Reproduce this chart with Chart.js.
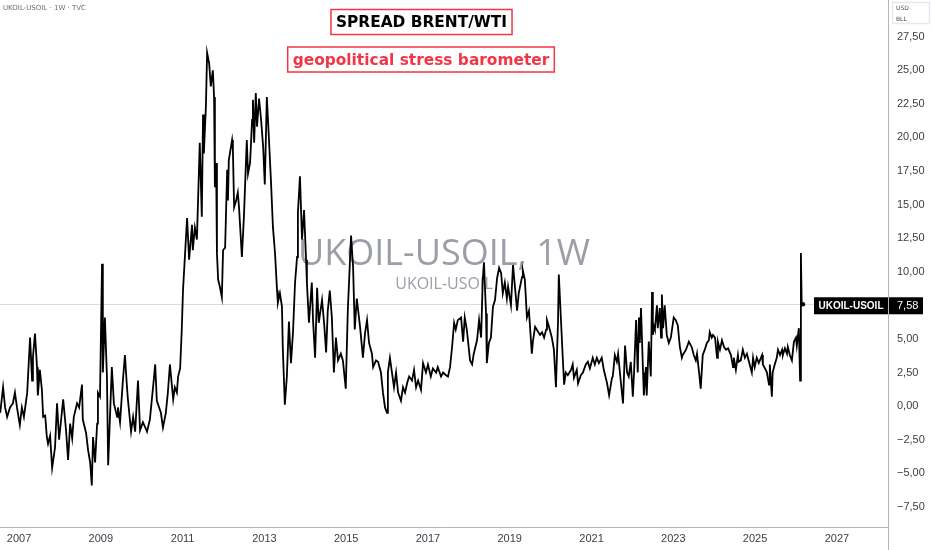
<!DOCTYPE html>
<html>
<head>
<meta charset="utf-8">
<script src="https://cdn.jsdelivr.net/npm/chart.js@4.4.1/dist/chart.umd.min.js"></script>
<style>
  html, body { margin: 0; padding: 0; background: #fff; }
  #wrap { position: relative; width: 932px; height: 550px; }
</style>
</head>
<body>
<div id="wrap"><canvas id="chart" width="932" height="550"></canvas></div>
<script>
// weekly spread UKOIL - USOIL (decimal year -> USD/bbl)
const weeks06_10 = [
  2006.54, 2006.61, 2006.66, 2006.71, 2006.78, 2006.85, 2006.90, 2006.95, 2007.02, 2007.07,
  2007.12, 2007.20, 2007.27, 2007.32, 2007.34, 2007.39, 2007.44, 2007.46, 2007.51, 2007.56,
  2007.59, 2007.64, 2007.68, 2007.71, 2007.76, 2007.81, 2007.88, 2007.93, 2007.98, 2008.03,
  2008.08, 2008.15, 2008.20, 2008.25, 2008.30, 2008.34, 2008.42, 2008.47, 2008.54, 2008.56,
  2008.64, 2008.69, 2008.74, 2008.78, 2008.81, 2008.86, 2008.91, 2008.93, 2008.98, 2009.03,
  2009.05, 2009.10, 2009.15, 2009.18, 2009.27, 2009.32, 2009.40, 2009.42, 2009.47, 2009.54,
  2009.59, 2009.64, 2009.66, 2009.74, 2009.79, 2009.84, 2009.91, 2009.96, 2010.03, 2010.13,
  2010.20, 2010.30, 2010.33, 2010.37, 2010.47, 2010.52, 2010.59, 2010.64, 2010.69, 2010.77,
  2010.81, 2010.86, 2010.89, 2010.94, 2010.98, 2011.01,
];
const spread06_10 = [
  -0.5, 1.4, -0.1, -0.8, -0.1, 0.2, 1.0, -0.1, -1.4, -0.1,
  -0.8, 1.0, 5.1, 1.9, 3.6, 5.4, 2.9, 0.8, 2.7, 1.2,
  -0.8, -0.7, -2.3, -2.8, -2.2, -4.6, -3.1, 0.2, -2.5, -1.0,
  0.5, -1.8, -4.0, -1.3, -2.4, -0.8, 0.2, -0.1, 1.6, -1.0,
  -2.0, -3.3, -4.2, -5.9, -2.3, -4.2, -1.3, 1.0, 0.7, 10.6,
  2.5, 6.6, 2.2, -4.4, 2.9, 0.2, -0.8, -0.1, -1.2, 1.9,
  3.8, 1.4, 0.6, -1.9, -0.8, -1.9, 1.9, -1.8, -1.2, -1.9,
  -1.0, 2.1, 3.1, 0.4, -0.5, -1.6, -0.5, 1.0, 3.1, 0.5,
  1.4, 1.0, 2.2, 2.8, 5.7, 8.6,
];

const weeks11_14 = [
  2011.08, 2011.11, 2011.16, 2011.23, 2011.25, 2011.30, 2011.35, 2011.42, 2011.47, 2011.50,
  2011.52, 2011.57, 2011.60, 2011.65, 2011.69, 2011.74, 2011.77, 2011.79, 2011.82, 2011.84,
  2011.87, 2011.91, 2011.96, 2011.99, 2012.04, 2012.09, 2012.11, 2012.13, 2012.21, 2012.23,
  2012.26, 2012.31, 2012.35, 2012.38, 2012.45, 2012.50, 2012.57, 2012.60, 2012.65, 2012.70,
  2012.72, 2012.75, 2012.79, 2012.82, 2012.87, 2012.92, 2012.97, 2013.01, 2013.06, 2013.11,
  2013.16, 2013.21, 2013.26, 2013.31, 2013.33, 2013.38, 2013.43, 2013.45, 2013.50, 2013.55,
  2013.60, 2013.65, 2013.70, 2013.75, 2013.80, 2013.82, 2013.87, 2013.92, 2013.97, 2014.02,
  2014.04, 2014.09,
];
const spread11_14 = [
  12.4, 14.0, 10.9, 13.5, 11.6, 13.3, 12.4, 19.6, 14.1, 21.7,
  18.8, 22.3, 26.3, 25.5, 23.8, 25.0, 23.0, 16.3, 18.1, 11.4,
  9.4, 8.9, 8.1, 11.6, 11.8, 17.6, 15.3, 18.3, 19.8, 19.1,
  14.8, 15.3, 15.9, 14.8, 11.1, 14.1, 19.8, 17.3, 18.1, 21.3,
  22.8, 19.6, 23.3, 20.8, 22.9, 21.3, 19.3, 16.5, 23.0, 20.0,
  16.8, 13.3, 11.4, 8.6, 7.7, 8.4, 7.4, 4.4, 0.1, 2.2,
  6.3, 3.2, 5.5, 9.2, 11.1, 14.4, 17.1, 12.4, 14.6, 10.9,
  9.2, 6.2,
];

const weeks14_17 = [
  2014.16, 2014.19, 2014.24, 2014.29, 2014.33, 2014.41, 2014.46, 2014.51, 2014.55, 2014.60,
  2014.65, 2014.70, 2014.75, 2014.80, 2014.87, 2014.92, 2014.99, 2015.04, 2015.12, 2015.17,
  2015.21, 2015.26, 2015.34, 2015.41, 2015.46, 2015.51, 2015.56, 2015.63, 2015.66, 2015.73,
  2015.78, 2015.85, 2015.90, 2015.95, 2016.00, 2016.02, 2016.07, 2016.12, 2016.17, 2016.22,
  2016.27, 2016.34, 2016.39, 2016.44, 2016.49, 2016.54, 2016.61, 2016.66, 2016.71, 2016.76,
  2016.83, 2016.88, 2016.95, 2017.00, 2017.07, 2017.12, 2017.20, 2017.24, 2017.32, 2017.37,
  2017.44, 2017.49, 2017.54, 2017.59, 2017.64, 2017.68, 2017.73, 2017.81, 2017.86, 2017.90,
  2017.95, 2018.03,
];
const spread14_17 = [
  9.2, 6.4, 3.6, 8.8, 6.2, 7.9, 6.2, 4.0, 7.1, 8.6,
  6.6, 2.5, 5.1, 3.4, 3.9, 3.4, 1.3, 7.1, 12.7, 10.3,
  5.7, 8.0, 5.9, 3.6, 5.4, 6.4, 4.7, 3.9, 2.9, 3.4,
  3.3, 2.5, 1.0, -0.1, -0.5, 2.5, 3.6, 2.5, 1.4, 2.5,
  1.0, 0.4, 1.4, 1.0, 1.7, 2.2, 1.9, 2.7, 1.4, 1.9,
  1.2, 3.2, 2.5, 3.1, 2.2, 2.8, 2.5, 2.9, 2.2, 2.5,
  2.3, 2.2, 2.9, 4.4, 6.2, 5.7, 6.4, 6.6, 4.8, 6.6,
  5.7, 3.4,
];

const weeks18_21 = [
  2018.08, 2018.12, 2018.20, 2018.25, 2018.30, 2018.34, 2018.37, 2018.42, 2018.44, 2018.49,
  2018.54, 2018.59, 2018.64, 2018.69, 2018.74, 2018.79, 2018.83, 2018.88, 2018.93, 2018.96,
  2019.03, 2019.08, 2019.13, 2019.18, 2019.22, 2019.30, 2019.32, 2019.37, 2019.42, 2019.47,
  2019.54, 2019.57, 2019.62, 2019.66, 2019.74, 2019.79, 2019.84, 2019.89, 2019.91, 2019.96,
  2020.03, 2020.08, 2020.13, 2020.18, 2020.20, 2020.25, 2020.30, 2020.33, 2020.37, 2020.42,
  2020.50, 2020.54, 2020.57, 2020.64, 2020.67, 2020.74, 2020.79, 2020.86, 2020.91, 2020.96,
  2021.03, 2021.08, 2021.13, 2021.18,
];
const spread18_21 = [
  3.1, 3.9, 4.9, 6.4, 5.1, 9.4, 10.7, 6.9, 3.2, 4.7,
  5.1, 7.4, 7.9, 9.5, 10.3, 9.9, 8.4, 9.2, 8.0, 8.9,
  7.5, 10.5, 8.8, 7.1, 8.4, 9.6, 10.1, 9.4, 6.6, 7.1,
  3.9, 4.9, 5.9, 5.7, 5.3, 5.5, 5.1, 5.7, 6.4, 5.9,
  5.1, 4.2, 1.4, 6.2, 9.8, 6.6, 3.4, 1.6, 2.5, 2.3,
  2.7, 3.1, 2.1, 2.7, 1.7, 2.3, 2.5, 3.1, 3.3, 2.8,
  3.6, 3.1, 3.6, 3.2,
];

const weeks21_26 = [
  2021.25, 2021.30, 2021.38, 2021.43, 2021.50, 2021.52, 2021.57, 2021.62, 2021.65, 2021.72,
  2021.77, 2021.82, 2021.87, 2021.91, 2021.96, 2022.01, 2022.04, 2022.09, 2022.13, 2022.16,
  2022.18, 2022.21, 2022.26, 2022.28, 2022.33, 2022.35, 2022.40, 2022.45, 2022.48, 2022.50,
  2022.53, 2022.55, 2022.60, 2022.62, 2022.67, 2022.70, 2022.72, 2022.75, 2022.79, 2022.84,
  2022.89, 2022.94, 2023.01, 2023.06, 2023.11, 2023.16, 2023.21, 2023.23, 2023.31, 2023.38,
  2023.45, 2023.50, 2023.55, 2023.58, 2023.63, 2023.67, 2023.72, 2023.77, 2023.82, 2023.87,
  2023.89, 2023.94, 2023.97, 2024.02, 2024.07, 2024.09, 2024.14, 2024.19, 2024.24, 2024.29,
  2024.34, 2024.41, 2024.46, 2024.48, 2024.53, 2024.58, 2024.60, 2024.65, 2024.70, 2024.75,
  2024.80, 2024.85, 2024.92, 2024.95, 2024.99, 2025.04, 2025.09, 2025.17, 2025.19, 2025.26,
  2025.29, 2025.34, 2025.36, 2025.41, 2025.43, 2025.48, 2025.53, 2025.56, 2025.61, 2025.66,
  2025.68, 2025.73, 2025.78, 2025.80, 2025.85, 2025.90, 2025.95, 2026.00, 2026.02, 2026.07,
  2026.10, 2026.12, 2026.14, 2026.17,
];
const spread21_26 = [
  3.6, 2.7, 1.7, 0.8, 2.1, 2.2, 3.8, 3.3, 3.9, 1.7,
  0.2, 4.5, 2.5, 2.2, 3.3, 0.7, 2.5, 6.4, 2.5, 6.6,
  4.7, 7.3, 2.5, 0.8, 2.9, 0.8, 4.8, 2.2, 8.5, 5.3,
  5.9, 5.7, 7.5, 5.8, 7.3, 5.1, 8.3, 5.8, 7.5, 5.3,
  4.7, 5.1, 6.6, 6.4, 6.0, 4.4, 3.6, 3.8, 4.2, 4.8,
  4.4, 3.8, 3.4, 3.9, 2.5, 1.3, 3.8, 4.2, 4.7, 4.9,
  5.5, 5.1, 5.3, 5.1, 3.6, 4.8, 4.2, 4.9, 4.4, 4.2,
  4.3, 3.8, 2.9, 3.6, 2.7, 3.8, 3.3, 3.4, 4.2, 3.6,
  3.9, 3.3, 2.5, 3.6, 2.9, 3.6, 3.2, 3.8, 3.1, 2.7,
  2.5, 1.6, 3.1, 0.7, 2.5, 3.1, 3.6, 4.2, 3.8, 4.2,
  3.8, 4.3, 3.9, 4.4, 3.8, 3.4, 4.8, 5.1, 4.5, 5.8,
  1.9, 11.4, 7.5, 7.58,
];

const yearTicks = [2007, 2009, 2011, 2013, 2015, 2017, 2019, 2021, 2023, 2025, 2027];
const priceTicks = [-7.5, -5, -2.5, 0, 2.5, 5, 7.5, 10, 12.5, 15, 17.5, 20, 22.5, 25, 27.5];

const symbol = 'UKOIL-USOIL';
const headerText = 'UKOIL-USOIL · 1W · TVC';
const watermark = 'UKOIL-USOIL, 1W';
const title = 'SPREAD BRENT/WTI';
const subtitle = 'geopolitical stress barometer';

const weeks = [].concat(weeks06_10, weeks11_14, weeks14_17, weeks18_21, weeks21_26);
const spread = [].concat(spread06_10, spread11_14, spread14_17, spread18_21, spread21_26);
const points = weeks.map((w, i) => ({ x: w, y: spread[i] }));
const lastIndex = points.length - 1;
const lastValue = spread[lastIndex];

const fmt = (v) => (v < 0 ? '\u2212' : '') + Math.abs(v).toFixed(2).replace('.', ',');

const RED = '#f23645';
const AXIS = '#b2b5be';
const TEXT = '#3b3e47';

function drawBoxedText(ctx, text, cx, cy, color) {
  ctx.font = 'bold 15.4px "DejaVu Sans"';
  const w = ctx.measureText(text).width;
  const bw = w + 10, bh = 25;
  ctx.fillStyle = '#fff';
  ctx.fillRect(cx - bw / 2, cy - bh / 2, bw, bh);
  ctx.strokeStyle = RED;
  ctx.lineWidth = 1.5;
  ctx.strokeRect(cx - bw / 2, cy - bh / 2, bw, bh);
  ctx.fillStyle = color;
  ctx.textAlign = 'center';
  ctx.textBaseline = 'middle';
  ctx.fillText(text, cx, cy + 1);
}

const overlay = {
  id: 'overlay',
  beforeDatasetsDraw(chart) {
    const { ctx, chartArea: a, scales: { y } } = chart;
    const cx = (a.left + a.right) / 2;
    ctx.save();
    ctx.fillStyle = 'rgba(138, 141, 152, 0.85)';
    ctx.textAlign = 'center';
    ctx.textBaseline = 'alphabetic';
    ctx.font = '36px "Open Sans"';
    ctx.fillText(watermark, cx, 265);
    ctx.font = '16px "Open Sans"';
    ctx.fillText(symbol, cx, 289);

    // last price line
    const py = Math.round(y.getPixelForValue(lastValue)) + 0.5;
    ctx.strokeStyle = '#dcdcdc';
    ctx.lineWidth = 1;
    ctx.beginPath();
    ctx.moveTo(a.left, py);
    ctx.lineTo(a.right, py);
    ctx.stroke();
    ctx.restore();
  },
  afterDraw(chart) {
    const { ctx, chartArea: a, scales: { y } } = chart;
    ctx.save();

    // axis separator runs the full height
    ctx.strokeStyle = AXIS;
    ctx.lineWidth = 1;
    ctx.beginPath();
    ctx.moveTo(a.right + 0.5, 0);
    ctx.lineTo(a.right + 0.5, chart.height);
    ctx.stroke();

    // last value labels
    const py = y.getPixelForValue(lastValue) + 1;
    ctx.font = 'bold 10px "Liberation Sans"';
    const nameW = ctx.measureText(symbol).width + 9;
    ctx.fillStyle = '#000';
    ctx.fillRect(a.right - nameW, py - 8, nameW, 17);
    ctx.fillRect(a.right + 1, py - 8, 34, 17);
    ctx.fillStyle = '#fff';
    ctx.textBaseline = 'middle';
    ctx.textAlign = 'center';
    ctx.fillText(symbol, a.right - nameW / 2, py + 1);
    ctx.textAlign = 'left';
    ctx.font = '11px "Liberation Sans"';
    ctx.fillText(fmt(lastValue), a.right + 9, py + 1);

    // titles
    drawBoxedText(ctx, title, 421.5, 22, '#000');
    drawBoxedText(ctx, subtitle, 421, 59.5, RED);

    // header
    ctx.font = '7px "DejaVu Sans"';
    ctx.fillStyle = '#6a6d78';
    ctx.textAlign = 'left';
    ctx.textBaseline = 'middle';
    ctx.fillText(headerText, 3, 8);

    // currency / unit box
    ctx.strokeStyle = '#e6e8ee';
    ctx.strokeRect(892.5, 2.5, 37, 21);
    ctx.fillStyle = '#4a4d57';
    ctx.font = '6px "DejaVu Sans"';
    ctx.fillText('USD', 896, 8);
    ctx.fillText('BLL', 896, 19);
    ctx.restore();
  },
};

new Chart(document.getElementById('chart'), {
  type: 'line',
  data: {
    datasets: [{
      data: points,
      borderColor: '#000',
      backgroundColor: '#000',
      borderWidth: 1.8,
      tension: 0,
      pointRadius: (c) => (c.dataIndex === lastIndex ? 2.2 : 0),
      pointBorderWidth: 0,
    }],
  },
  options: {
    responsive: false,
    animation: false,
    devicePixelRatio: 1,
    layout: { padding: 0, autoPadding: false },
    plugins: { legend: { display: false }, tooltip: { enabled: false } },
    scales: {
      x: {
        type: 'linear',
        min: 2006.535,
        max: 2028.25,
        afterBuildTicks: (s) => { s.ticks = yearTicks.map((v) => ({ value: v })); },
        afterFit: (s) => {
          s.height = 23;
          s.paddingLeft = 0;
          s.paddingRight = 0;
        },
        grid: { display: false, drawTicks: false },
        border: { display: true, color: AXIS, width: 1 },
        ticks: {
          autoSkip: false,
          maxRotation: 0,
          padding: 5,
          color: TEXT,
          font: { family: 'Liberation Sans', size: 11 },
          callback: (v) => String(v),
        },
      },
      y: {
        position: 'right',
        min: -9.0,
        max: 30.23,
        afterBuildTicks: (s) => { s.ticks = priceTicks.map((v) => ({ value: v })); },
        afterFit: (s) => {
          s.width = 44;
          s.paddingTop = 0;
          s.paddingBottom = 0;
        },
        grid: { display: false, drawTicks: false },
        border: { display: true, color: AXIS, width: 1 },
        ticks: {
          padding: 9,
          color: TEXT,
          font: { family: 'Liberation Sans', size: 11 },
          callback: (v) => fmt(v),
        },
      },
    },
  },
  plugins: [overlay],
});
</script>
</body>
</html>
